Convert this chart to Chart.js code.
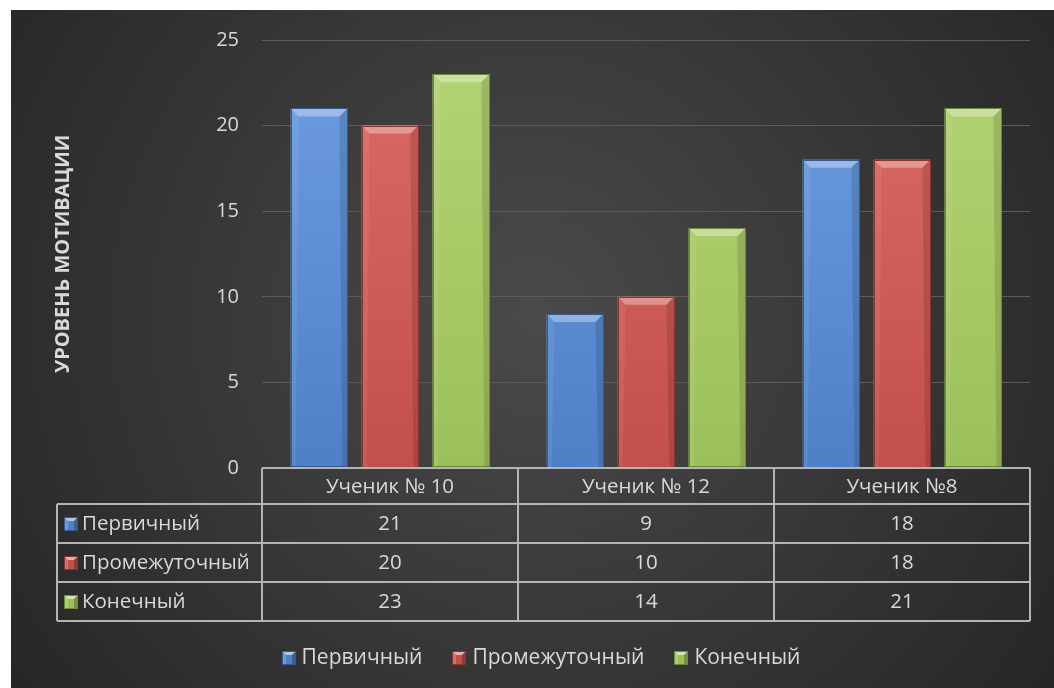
<!DOCTYPE html>
<html>
<head>
<meta charset="utf-8">
<script src="https://cdn.jsdelivr.net/npm/chart.js@4"></script>
<style>
  html, body { margin: 0; padding: 0; background: #fff; }
  #wrap { position: absolute; left: 11px; top: 10px; width: 1043px; height: 678px; }
</style>
</head>
<body>
<div id="wrap"><canvas id="chart"></canvas></div>
<script>
// данные диаграммы
const categories = ['Ученик № 10', 'Ученик № 12', 'Ученик №8'];
const seriesNames = ['Первичный', 'Промежуточный', 'Конечный'];
const primaryValues = [21, 9, 18];
const middleValues = [20, 10, 18];
const finalValues = [23, 14, 21];
const yTicks = [0, 5, 10, 15, 20, 25];
const yTitle = 'УРОВЕНЬ МОТИВАЦИИ';

const FONT = '"Open Sans", "Noto Sans", sans-serif';
const TEXT = '#d9d9d9';

// цвета серий: верх, низ, контур
const palette = [
    { top: '#6e9de2', bottom: '#4f80c6', edge: '#36598e' },
    { top: '#dc6b66', bottom: '#c24f4b', edge: '#853532' },
    { top: '#b3d474', bottom: '#9cc059', edge: '#6d8a3a' }
];

// маленький квадратик с фаской для легенды и таблицы
function makeMarker(c) {
    const cv = document.createElement('canvas');
    cv.width = 14; cv.height = 14;
    const g = cv.getContext('2d');
    g.fillStyle = c.bottom;
    g.fillRect(0, 0, 14, 14);
    g.fillStyle = 'rgba(255,255,255,0.55)';
    g.beginPath(); g.moveTo(0, 0); g.lineTo(14, 0); g.lineTo(10, 4); g.lineTo(4, 4); g.closePath(); g.fill();
    g.fillStyle = 'rgba(255,255,255,0.2)';
    g.beginPath(); g.moveTo(0, 0); g.lineTo(4, 4); g.lineTo(4, 14); g.lineTo(0, 14); g.closePath(); g.fill();
    g.fillStyle = 'rgba(0,0,0,0.25)';
    g.beginPath(); g.moveTo(14, 0); g.lineTo(10, 4); g.lineTo(10, 14); g.lineTo(14, 14); g.closePath(); g.fill();
    g.strokeStyle = c.edge; g.lineWidth = 1;
    g.strokeRect(0.5, 0.5, 13, 13);
    return cv;
}
const markers = palette.map(makeMarker);

function barGradient(context, i) {
    const area = context.chart.chartArea;
    if (!area) return palette[i].bottom;
    const gr = context.chart.ctx.createLinearGradient(0, area.top, 0, area.bottom);
    gr.addColorStop(0, palette[i].top);
    gr.addColorStop(1, palette[i].bottom);
    return gr;
}

// фон: радиальный градиент
const backgroundPlugin = {
    id: 'bg',
    beforeDraw(chart) {
        const { ctx, width, height } = chart;
        const gr = ctx.createRadialGradient(width * 0.5, height * 0.45, 0, width * 0.5, height * 0.45, width * 0.62);
        gr.addColorStop(0, '#4a4a4a');
        gr.addColorStop(1, '#262626');
        ctx.save();
        ctx.fillStyle = gr;
        ctx.fillRect(0, 0, width, height);
        ctx.restore();
    }
};

// фаска на столбиках
const bevelPlugin = {
    id: 'bevel',
    afterDatasetsDraw(chart) {
        const ctx = chart.ctx;
        chart.data.datasets.forEach((ds, i) => {
            chart.getDatasetMeta(i).data.forEach(el => {
                const p = el.getProps(['x', 'y', 'base', 'width'], true);
                const l = p.x - p.width / 2, r = p.x + p.width / 2, t = p.y, b = p.base;
                const bv = 8, sv = 5;
                ctx.save();
                ctx.fillStyle = 'rgba(255,255,255,0.34)';
                ctx.beginPath(); ctx.moveTo(l, t); ctx.lineTo(r, t); ctx.lineTo(r - bv, t + bv); ctx.lineTo(l + bv, t + bv); ctx.closePath(); ctx.fill();
                ctx.fillStyle = 'rgba(255,255,255,0.08)';
                ctx.beginPath(); ctx.moveTo(l, t); ctx.lineTo(l + bv, t + bv); ctx.lineTo(l + sv, b); ctx.lineTo(l, b); ctx.closePath(); ctx.fill();
                ctx.fillStyle = 'rgba(0,0,0,0.12)';
                ctx.beginPath(); ctx.moveTo(r, t); ctx.lineTo(r - bv, t + bv); ctx.lineTo(r - sv, b); ctx.lineTo(r, b); ctx.closePath(); ctx.fill();
                ctx.strokeStyle = palette[i].edge;
                ctx.lineWidth = 1;
                ctx.strokeRect(Math.round(l) + 0.5, Math.round(t) + 0.5, Math.round(r - l) - 1, Math.round(b - t) - 1);
                ctx.restore();
            });
        });
    }
};

// таблица данных под осью X и легенда
const tablePlugin = {
    id: 'dataTable',
    afterDraw(chart) {
        const ctx = chart.ctx;
        const area = chart.chartArea;
        const xs = chart.scales.x;
        const colW = (area.right - area.left) / categories.length;
        const labelLeft = 46;
        const headH = 36, rowH = 39;
        const top = area.bottom;
        const rowsTop = top + headH;
        const bottom = rowsTop + rowH * seriesNames.length;
        ctx.save();
        ctx.strokeStyle = '#b4b4b4';
        ctx.lineWidth = 2;
        ctx.beginPath();
        // горизонтальные линии
        ctx.moveTo(area.left, top); ctx.lineTo(area.right, top);
        for (let r = 0; r <= seriesNames.length; r++) {
            const y = rowsTop + r * rowH;
            ctx.moveTo(labelLeft, y); ctx.lineTo(area.right, y);
        }
        // вертикальные линии
        ctx.moveTo(labelLeft, rowsTop); ctx.lineTo(labelLeft, bottom);
        for (let c = 0; c <= categories.length; c++) {
            const x = area.left + c * colW;
            ctx.moveTo(x, top); ctx.lineTo(x, bottom);
        }
        ctx.stroke();

        ctx.fillStyle = TEXT;
        ctx.font = '20.5px ' + FONT;
        ctx.textBaseline = 'middle';
        ctx.textAlign = 'center';
        categories.forEach((cat, c) => {
            ctx.fillText(cat, xs.getPixelForValue(c), top + headH / 2 + 1);
        });
        chart.data.datasets.forEach((ds, i) => {
            const yMid = rowsTop + i * rowH + rowH / 2 + 1;
            ctx.textAlign = 'center';
            ds.data.forEach((v, c) => {
                ctx.fillText(String(v), xs.getPixelForValue(c), yMid);
            });
            ctx.drawImage(markers[i], labelLeft + 7, Math.round(yMid - 8));
            ctx.textAlign = 'left';
            ctx.fillText(ds.label, labelLeft + 25, yMid);
        });

        // легенда
        ctx.font = '21px ' + FONT;
        const gap = 6, itemGap = 30;
        const widths = seriesNames.map(n => 14 + gap + ctx.measureText(n).width);
        const total = widths.reduce((a, b) => a + b, 0) + itemGap * (widths.length - 1);
        let x = 530 - total / 2;
        const ly = 648;
        seriesNames.forEach((n, i) => {
            ctx.drawImage(markers[i], Math.round(x), ly - 7);
            ctx.textAlign = 'left';
            ctx.fillText(n, x + 14 + gap, ly);
            x += widths[i] + itemGap;
        });
        ctx.restore();
    }
};

const datasets = [primaryValues, middleValues, finalValues].map((vals, i) => ({
    label: seriesNames[i],
    data: vals,
    backgroundColor: ctx => barGradient(ctx, i),
    borderWidth: 0,
    categoryPercentage: 0.832,
    barPercentage: 0.8
}));

new Chart(document.getElementById('chart'), {
    type: 'bar',
    data: { labels: categories, datasets: datasets },
    options: {
        responsive: true,
        maintainAspectRatio: false,
        animation: false,
        layout: { padding: { top: 30, right: 24, left: 0, bottom: 0 } },
        plugins: {
            tooltip: { enabled: false },
            legend: { display: false }
        },
        scales: {
            x: {
                grid: { display: false },
                border: { display: false },
                ticks: { display: false },
                afterFit: s => { s.height = 220; }
            },
            y: {
                min: 0,
                max: 25,
                afterBuildTicks: s => { s.ticks = yTicks.map(v => ({ value: v })); },
                afterFit: s => { s.width = 251; s.paddingTop = 0; s.paddingBottom = 0; },
                grid: { color: '#5b5b5b', lineWidth: 1, drawTicks: false },
                border: { display: false },
                ticks: { color: TEXT, font: { family: FONT, size: 20 }, padding: 23 },
                title: {
                    display: true,
                    text: yTitle,
                    color: TEXT,
                    font: { family: FONT, size: 20, weight: 'bold' },
                    padding: { top: 40, bottom: 0 }
                }
            }
        }
    },
    plugins: [backgroundPlugin, bevelPlugin, tablePlugin]
});
</script>
</body>
</html>
